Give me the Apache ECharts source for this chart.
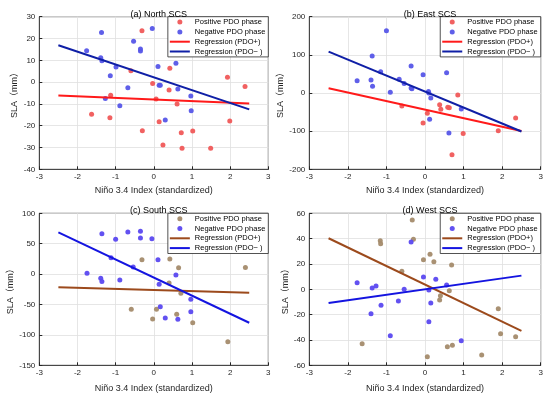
<!DOCTYPE html>
<html>
<head>
<meta charset="utf-8">
<script src="https://cdn.jsdelivr.net/npm/echarts@6/dist/echarts.min.js"></script>
<style>html,body{margin:0;padding:0;background:#fff;}#c{width:550px;height:399px;}</style>
</head>
<body>
<div id="c"></div>
<script>
// ---- data ----
const panelTitles = ['(a) North SCS', '(b) East SCS', '(c) South SCS', '(d) West SCS'];
const xRange = [-3, 3, 1];
const yRanges = [[-40, 30, 10], [-200, 200, 100], [-150, 100, 50], [-60, 60, 20]];
const regX = [-2.5, 2.5];

const posA_x = [-1.63,-1.15,-1.13,-0.60,-0.31,-0.30,-0.03,0.06,0.14,0.24,0.40,0.42,0.61,0.72,0.74,1.02,1.49,1.93,1.99,2.39];
const posA_y = [-14.8,-16.3,-6.0,5.2,23.6,-22.3,-0.6,-7.8,-18.2,-28.9,-3.6,6.3,-10.1,-23.2,-30.4,-22.4,-30.4,2.2,-17.9,-2.0];
const negA_x = [-1.76,-1.37,-1.39,-1.36,-0.99,-1.14,-1.27,-0.89,-0.68,-0.53,-0.35,-0.35,-0.04,0.11,0.14,0.17,0.30,0.58,0.63,0.97,0.98];
const negA_y = [14.4,22.8,11.2,9.8,6.9,2.9,-7.5,-10.8,-2.6,18.7,15.2,14.3,24.6,7.1,-1.5,-1.5,-17.4,8.6,-3.2,-6.4,-13.1];
const regPosA = [-6.2, -9.8];
const regNegA = [16.9, -12.5];

const posB_x = [-0.60,-0.05,0.06,0.38,0.41,0.59,0.63,0.70,0.85,0.99,1.90,2.35];
const posB_y = [-34,-78.6,-53,-30.6,-42.8,-37.6,-38.6,-162,-5,-106,-99,-65.5];
const negB_x = [-1.00,-1.37,-1.76,-1.40,-1.36,-1.15,-0.90,-0.67,-0.54,-0.36,-0.36,-0.34,-0.05,0.09,0.10,0.15,0.12,0.56,0.62,0.94];
const negB_y = [163,97,32,34,17.5,55.9,1.8,36,25,70.7,13,11,48,4,0,-13,-69,53,-105,-42];
const regPosB = [12.2, -99.6];
const regNegB = [108.3, -101];

const posC_x = [-0.31,0.42,0.65,2.40,0.40,0.71,-0.59,0.07,-0.03,0.60,1.02,1.94];
const posC_y = [23.7,24.8,10.5,11,-14.6,-31.6,-57.9,-57.9,-73.9,-66.1,-79.9,-111.2];
const negC_x = [-1.36,-1.00,-0.68,-0.35,-0.35,-0.05,-1.12,-0.54,-1.75,-1.39,-1.36,-0.89,0.11,0.58,0.14,0.97,0.17,0.97,0.30,0.63];
const negC_y = [66.5,57.2,69.3,70.4,59.4,58.2,27,11.7,1.3,-7,-12,-9.7,23.7,-1.5,-16.8,-41.4,-53.6,-61.8,-72.2,-74.3];
const regPosC = [-21.7, -30.6];
const regNegC = [68.7, -80];

const posD_x = [-0.33,-1.16,-1.15,-0.30,0.13,-0.04,0.23,0.69,-0.60,0.63,0.40,0.38,1.90,1.96,2.35,-1.63,0.58,0.71,1.47,0.06];
const posD_y = [54.7,38.4,36,39.5,27.6,23.4,21.8,19.2,14.2,-1.1,-5,-8.4,-15.3,-35,-37.4,-42.9,-45.3,-44.2,-51.9,-53.2];
const negD_x = [-0.36,-1.76,-1.37,-1.27,-0.54,-0.04,0.28,0.56,0.10,0.15,-0.69,-1.14,-1.40,0.10,-0.90,0.94];
const negD_y = [37.3,5.2,1.0,2.6,0,9.7,7.9,3.4,-0.5,-10.8,-9.2,-12.6,-19.3,-25.6,-36.6,-40.6];
const regPosD = [40.3, -32.9];
const regNegD = [-10.8, 10.8];

const legendNames = ['Positive PDO phase', 'Negative PDO phase', 'Regression (PDO+)', 'Regression (PDO\u2212 )'];

// ---- layout / style ----
const FONT = '"Liberation Sans", Arial, Helvetica, sans-serif';
const LINE_ICON = 'path://M0,0L40,0L40,4L0,4Z';
const grids = [
  {left: 39.3, top: 16.7, width: 229, height: 152.6},
  {left: 309.3, top: 16.7, width: 231.4, height: 152.6},
  {left: 39.3, top: 213.3, width: 229, height: 152},
  {left: 309.3, top: 213.3, width: 231.4, height: 152}
];
const yNameGaps = [20.5, 24, 24, 19];
const xNameGaps = [17, 17, 19, 19];
const styles = [
  {pt: '#f05858', nt: '#5656e8', pl: '#ff1a1a', nl: '#0f1fa6'},
  {pt: '#f05858', nt: '#5656e8', pl: '#ff1a1a', nl: '#0f1fa6'},
  {pt: '#a48b6c', nt: '#5a48f0', pl: '#9c4a1c', nl: '#1414e0'},
  {pt: '#a48b6c', nt: '#5a48f0', pl: '#9c4a1c', nl: '#1414e0'}
];
const panels = [
  [posA_x, posA_y, negA_x, negA_y, regPosA, regNegA],
  [posB_x, posB_y, negB_x, negB_y, regPosB, regNegB],
  [posC_x, posC_y, negC_x, negC_y, regPosC, regNegC],
  [posD_x, posD_y, negD_x, negD_y, regPosD, regNegD]
];
const zip = (xs, ys) => xs.map((x, i) => [x, ys[i]]);

const option = {
  animation: false,
  backgroundColor: '#fff',
  textStyle: {fontFamily: FONT},
  title: [], grid: [], xAxis: [], yAxis: [], legend: [], series: []
};

panels.forEach((p, i) => {
  const g = grids[i], st = styles[i], sfx = '#' + i;
  option.grid.push(Object.assign({show: true, borderColor: '#262626', borderWidth: 0.8, backgroundColor: 'transparent'}, g));
  option.title.push({
    text: panelTitles[i], left: g.left + g.width / 2, top: g.top - 12, textAlign: 'center',
    textStyle: {fontSize: 9, fontWeight: 'normal', color: '#000', fontFamily: FONT}
  });
  option.xAxis.push({
    type: 'value', gridIndex: i, min: xRange[0], max: xRange[1], interval: xRange[2],
    name: 'Niño 3.4 Index (standardized)', nameLocation: 'middle', nameGap: xNameGaps[i],
    nameTextStyle: {fontSize: 9, color: '#262626', fontFamily: FONT},
    axisLine: {show: true, onZero: false, lineStyle: {color: '#262626', width: 0.8}},
    axisTick: {show: true, inside: true, length: 3, lineStyle: {color: '#262626'}},
    axisLabel: {fontSize: 8, color: '#262626', margin: 3, fontFamily: FONT},
    splitLine: {show: true, lineStyle: {color: '#e0e0e0', width: 0.8}}
  });
  option.yAxis.push({
    type: 'value', gridIndex: i, min: yRanges[i][0], max: yRanges[i][1], interval: yRanges[i][2],
    name: 'SLA（mm）', nameLocation: 'middle', nameGap: yNameGaps[i], nameRotate: 90,
    nameTextStyle: {fontSize: 9, color: '#262626', fontFamily: FONT + ', "Noto Sans CJK SC"'},
    axisLine: {show: true, onZero: false, lineStyle: {color: '#262626', width: 0.8}},
    axisTick: {show: true, inside: true, length: 3, lineStyle: {color: '#262626'}},
    axisLabel: {fontSize: 8, color: '#262626', margin: 4, fontFamily: FONT},
    splitLine: {show: true, lineStyle: {color: '#e0e0e0', width: 0.8}}
  });
  option.series.push({
    name: legendNames[0] + sfx, type: 'scatter', xAxisIndex: i, yAxisIndex: i,
    symbolSize: 5, itemStyle: {color: st.pt, opacity: 0.95}, data: zip(p[0], p[1])
  });
  option.series.push({
    name: legendNames[1] + sfx, type: 'scatter', xAxisIndex: i, yAxisIndex: i,
    symbolSize: 5, itemStyle: {color: st.nt, opacity: 0.95}, data: zip(p[2], p[3])
  });
  option.series.push({
    name: legendNames[2] + sfx, type: 'line', xAxisIndex: i, yAxisIndex: i, symbol: 'none',
    lineStyle: {color: st.pl, width: 2}, itemStyle: {color: st.pl}, data: zip(regX, p[4])
  });
  option.series.push({
    name: legendNames[3] + sfx, type: 'line', xAxisIndex: i, yAxisIndex: i, symbol: 'none',
    lineStyle: {color: st.nl, width: 2}, itemStyle: {color: st.nl}, data: zip(regX, p[5])
  });
  option.legend.push({
    orient: 'vertical', right: 550 - (g.left + g.width), top: g.top,
    data: [
      {name: legendNames[0] + sfx, icon: 'circle', itemStyle: {color: st.pt}},
      {name: legendNames[1] + sfx, icon: 'circle', itemStyle: {color: st.nt}},
      {name: legendNames[2] + sfx, icon: LINE_ICON, itemStyle: {color: st.pl, borderWidth: 0}},
      {name: legendNames[3] + sfx, icon: LINE_ICON, itemStyle: {color: st.nl, borderWidth: 0}}
    ],
    symbolKeepAspect: true,
    formatter: n => n.replace(/#\d$/, ''),
    itemWidth: 20, itemHeight: 5, itemGap: 1, itemTextGap: 4,
    padding: [1, 3, 1, 2],
    backgroundColor: '#fff', borderColor: '#262626', borderWidth: 0.8, borderRadius: 0,
    textStyle: {fontSize: 7.5, color: '#000', lineHeight: 8.8, fontFamily: FONT}
  });
});

const chart = echarts.init(document.getElementById('c'), null, {renderer: 'canvas'});
chart.setOption(option);
</script>
</body>
</html>
